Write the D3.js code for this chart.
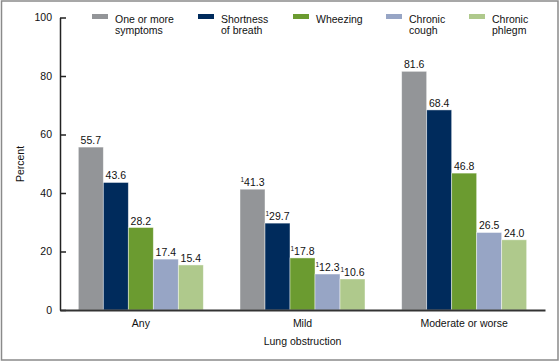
<!DOCTYPE html>
<html>
<head>
<meta charset="utf-8">
<script src="https://cdn.jsdelivr.net/npm/d3@7"></script>
<style>
  body { margin: 0; background: #fff; }
  svg text { font-family: Arial, "Liberation Sans", sans-serif; fill: #111; }
</style>
</head>
<body>
<svg id="chart" width="560" height="363"></svg>
<script>
const groups = ["Any", "Mild", "Moderate or worse"]
const seriesNames = [["One or more", "symptoms"], ["Shortness", "of breath"], ["Wheezing"], ["Chronic", "cough"], ["Chronic", "phlegm"]]
const colors = ["#939598", "#002b5c", "#6b9b30", "#97a5c5", "#afc98c"]
// values per group, one per series
const anyVals = [55.7, 43.6, 28.2, 17.4, 15.4]
const mildVals = [41.3, 29.7, 17.8, 12.3, 10.6]
const modVals = [81.6, 68.4, 46.8, 26.5, 24.0]
// Mild estimates carry footnote 1
const flagged = [false, true, false]
const yTicks = [0, 20, 40, 60, 80, 100]

const values = [anyVals, mildVals, modVals]

const svg = d3.select('#chart')
const plotLeft = 60, plotRight = 545, plotTop = 17.5, plotBottom = 310

// outer frame
svg.append('rect')
    .attr('x', 1.5).attr('y', 1)
    .attr('width', 556.5).attr('height', 359)
    .attr('fill', 'none')
    .attr('stroke', '#8a8a8a')
    .attr('stroke-width', 1.5)

const x0 = d3.scaleBand().domain(groups).range([plotLeft, plotRight])
const x1 = d3.scaleBand().domain(d3.range(5)).range([0, 125])
const y = d3.scaleLinear().domain([0, 100]).range([plotBottom, plotTop])

// bars
const g = svg.selectAll('.grp')
    .data(groups)
    .enter()
    .append('g')
    .attr('class', 'grp')
    .attr('transform', d => `translate(${x0(d) + (x0.bandwidth() - 125) / 2},0)`)

g.selectAll('rect')
    .data((d, i) => values[i].map((v, j) => ({v, j, flag: flagged[i]})))
    .enter()
    .append('rect')
    .attr('x', d => x1(d.j))
    .attr('y', d => y(d.v))
    .attr('width', x1.bandwidth())
    .attr('height', d => y(0) - y(d.v))
    .attr('fill', d => colors[d.j])
    .attr('stroke', 'rgba(255,255,255,0.55)')
    .attr('stroke-width', 0.8)

const lbl = g.selectAll('.val')
    .data((d, i) => values[i].map((v, j) => ({v, j, flag: flagged[i]})))
    .enter()
    .append('text')
    .attr('class', 'val')
    .attr('x', d => x1(d.j) + x1.bandwidth() / 2)
    .attr('y', d => y(d.v) - 3)
    .attr('text-anchor', 'middle')
    .style('font-size', '10.5px')
lbl.filter(d => d.flag).append('tspan')
    .style('font-size', '6.5px')
    .attr('dy', -4)
    .text('1')
lbl.append('tspan')
    .attr('dy', d => d.flag ? 4 : 0)
    .text(d => d.v.toFixed(1))

// y axis, ticks pointing inward
const yAxis = svg.append('g')
    .attr('transform', `translate(${plotLeft},0)`)
    .call(d3.axisLeft(y).tickValues(yTicks).tickSize(-6).tickSizeOuter(0).tickPadding(8))
yAxis.selectAll('path, line').attr('stroke', '#222').attr('stroke-width', 1.5)
yAxis.selectAll('text').style('font-size', '10.5px').attr('fill', '#111')

// x axis
const xAxis = svg.append('g')
    .attr('transform', `translate(0,${plotBottom})`)
    .call(d3.axisBottom(x0).tickSize(0).tickPadding(9.5))
xAxis.select('.domain').attr('stroke', '#333').attr('stroke-width', 2)
xAxis.selectAll('text').style('font-size', '10.5px').attr('fill', '#111')

// axis titles
svg.append('text')
    .attr('transform', 'translate(24,164) rotate(-90)')
    .attr('text-anchor', 'middle')
    .style('font-size', '10.5px')
    .text('Percent')
svg.append('text')
    .attr('x', x0('Mild') + x0.bandwidth() / 2)
    .attr('y', 345)
    .attr('text-anchor', 'middle')
    .style('font-size', '10.5px')
    .text('Lung obstruction')

// legend
const legendX = [92, 198, 293, 386, 469]
const leg = svg.selectAll('.leg')
    .data(seriesNames)
    .enter()
    .append('g')
    .attr('class', 'leg')
    .attr('transform', (d, i) => `translate(${legendX[i]},14)`)
leg.append('rect')
    .attr('width', 16).attr('height', 5)
    .attr('fill', (d, i) => colors[i])
leg.append('text')
    .attr('x', 23)
    .attr('y', 8.5)
    .style('font-size', '10.5px')
    .selectAll('tspan')
    .data(d => d)
    .enter()
    .append('tspan')
    .attr('x', 23)
    .attr('dy', (d, i) => i ? 11.5 : 0)
    .text(d => d)
</script>
</body>
</html>
